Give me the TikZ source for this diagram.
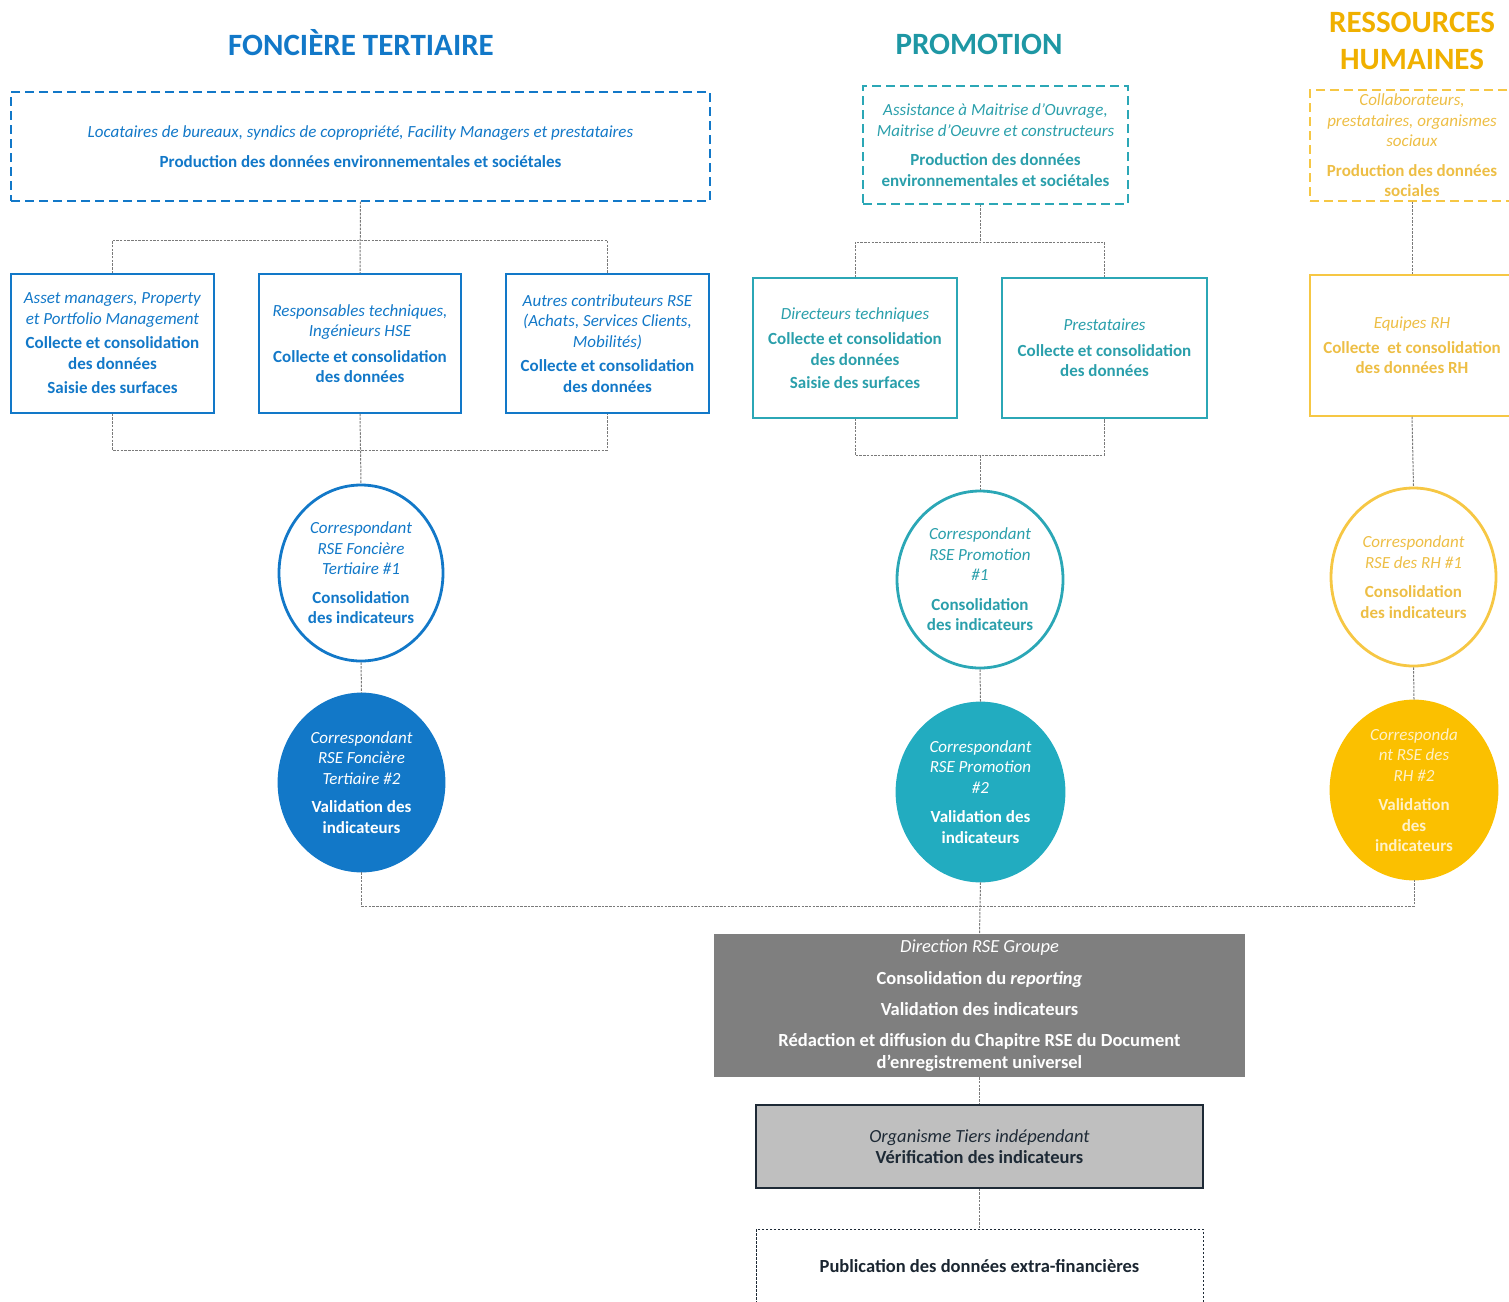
\documentclass[tikz,border=0pt]{standalone}
\usepackage{fontspec}
\setmainfont{Carlito}
\usetikzlibrary{shapes.geometric}
\definecolor{fblue}{HTML}{1278C8}
\definecolor{tealT}{HTML}{1E97A4}
\definecolor{tealS}{HTML}{2BA7B6}
\definecolor{tealF}{HTML}{22ACC0}
\definecolor{tealX}{HTML}{2A9FAB}
\definecolor{yelT}{HTML}{F0B000}
\definecolor{yelS}{HTML}{F6C744}
\definecolor{yelX}{HTML}{EDBE45}
\definecolor{yelF}{HTML}{FBC000}
\definecolor{yelW}{HTML}{FFF1C8}
\definecolor{conng}{HTML}{7A7A7A}
\definecolor{darkg}{HTML}{7F7F7F}
\definecolor{lightg}{HTML}{BFBFBF}
\definecolor{navy}{HTML}{1E2A36}
\begin{document}
\begin{tikzpicture}[x=1pt,y=-1pt,
  body/.style={font=\fontsize{17}{20.5}\selectfont, align=center, inner sep=0pt},
  ttl/.style={font=\fontsize{31}{37}\selectfont\bfseries, align=center, inner sep=0pt},
  dbox/.style={body, draw, line width=1.4pt, dash pattern=on 9pt off 5pt},
  sbox/.style={body, draw, line width=1.5pt},
  circ/.style={body, ellipse, draw, line width=2.8pt},
  conn/.style={draw=conng, line width=1pt, dash pattern=on 2.5pt off 1.2pt}
]
\useasboundingbox (0,0) rectangle (1509,1301);
\clip (0,0) rectangle (1509,1301);

% titles
\node[ttl, text=fblue] (tF) at (361,43) {FONCIÈRE TERTIAIRE};
\node[ttl, text=tealT] (tP) at (979,44) {PROMOTION};
\node[ttl, text=yelT] (tR) at (1412,40.5) {RESSOURCES\\HUMAINES};

% ---------- Foncière tertiaire ----------
\node[dbox, draw=fblue, text=fblue, minimum width=699, minimum height=109] (fbox) at (360.5,146.5)
  {\textit{Locataires de bureaux, syndics de copropriété, Facility Managers et prestataires}\\[9pt]
   \textbf{Production des données environnementales et sociétales}};

\node[sbox, draw=fblue, text=fblue, minimum width=203, minimum height=139] (b1) at (112.5,343.5)
  {\textit{Asset managers, Property}\\\textit{et Portfolio Management}\\[4pt]
   \textbf{Collecte et consolidation}\\\textbf{des données}\\[4pt]\textbf{Saisie des surfaces}};
\node[sbox, draw=fblue, text=fblue, minimum width=202, minimum height=139] (b2) at (360,343.5)
  {\textit{Responsables techniques,}\\\textit{Ingénieurs HSE}\\[5pt]
   \textbf{Collecte et consolidation}\\\textbf{des données}};
\node[sbox, draw=fblue, text=fblue, minimum width=203, minimum height=139] (b3) at (607.5,343.5)
  {\textit{Autres contributeurs RSE}\\\textit{(Achats, Services Clients,}\\\textit{Mobilités)}\\[4pt]
   \textbf{Collecte et consolidation}\\\textbf{des données}};

\node[circ, draw=fblue, text=fblue, minimum width=164, minimum height=176] (c1) at (361,573)
  {\textit{Correspondant}\\\textit{RSE Foncière}\\\textit{Tertiaire \#1}\\[8pt]
   \textbf{Consolidation}\\\textbf{des indicateurs}};
\node[circ, draw=fblue, fill=fblue, text=white, minimum width=165, minimum height=177] (c2) at (361.5,782.5)
  {\textit{Correspondant}\\\textit{RSE Foncière}\\\textit{Tertiaire \#2}\\[8pt]
   \textbf{Validation des}\\\textbf{indicateurs}};

% ---------- Promotion ----------
\node[dbox, draw=tealS, text=tealX, minimum width=265, minimum height=118] (pbox) at (995.5,145)
  {\textit{Assistance à Maitrise d’Ouvrage,}\\\textit{Maitrise d’Oeuvre et constructeurs}\\[9pt]
   \textbf{Production des données}\\\textbf{environnementales et sociétales}};

\node[sbox, draw=tealS, text=tealX, minimum width=204, minimum height=140] (pb1) at (855,348)
  {\textit{Directeurs techniques}\\[5pt]
   \textbf{Collecte et consolidation}\\\textbf{des données}\\[3pt]\textbf{Saisie des surfaces}};
\node[sbox, draw=tealS, text=tealX, minimum width=205, minimum height=140] (pb2) at (1104.5,348)
  {\textit{Prestataires}\\[5pt]
   \textbf{Collecte et consolidation}\\\textbf{des données}};

\node[circ, draw=tealS, text=tealX, minimum width=166, minimum height=177] (pc1) at (980,579.5)
  {\textit{Correspondant}\\\textit{RSE Promotion}\\\textit{\#1}\\[9pt]
   \textbf{Consolidation}\\\textbf{des indicateurs}};
\node[circ, draw=tealF, fill=tealF, text=white, minimum width=167, minimum height=178] (pc2) at (980.5,792)
  {\textit{Correspondant}\\\textit{RSE Promotion}\\\textit{\#2}\\[9pt]
   \textbf{Validation des}\\\textbf{indicateurs}};

% ---------- Ressources humaines ----------
\node[dbox, draw=yelS, text=yelX, minimum width=204, minimum height=111] (rbox) at (1412,145.5)
  {\textit{Collaborateurs,}\\\textit{prestataires, organismes}\\\textit{sociaux}\\[9pt]
   \textbf{Production des données}\\\textbf{sociales}};
\node[sbox, draw=yelS, text=yelX, minimum width=204, minimum height=141] (rb1) at (1412,345.5)
  {\textit{Equipes RH}\\[4pt]
   \textbf{Collecte\ \ et consolidation}\\\textbf{des données RH}};
\node[circ, draw=yelS, text=yelX, minimum width=165, minimum height=178] (rc1) at (1413.5,577)
  {\textit{Correspondant}\\\textit{RSE des RH \#1}\\[9pt]
   \textbf{Consolidation}\\\textbf{des indicateurs}};
\node[circ, draw=yelF, fill=yelF, text=yelW, minimum width=166, minimum height=178] (rc2) at (1414,790)
  {\textit{Corresponda}\\\textit{nt RSE des}\\\textit{RH \#2}\\[9pt]
   \textbf{Validation}\\\textbf{des}\\\textbf{indicateurs}};

% ---------- Groupe ----------
\node[body, fill=darkg, text=white, minimum width=531, minimum height=143, font=\fontsize{18.5}{22}\selectfont] (dir) at (979.5,1005.5)
  {\textit{Direction RSE Groupe}\\[10pt]
   \textbf{Consolidation\ du \textit{reporting}}\\[9pt]
   \textbf{Validation des indicateurs}\\[9pt]
   \textbf{Rédaction et diffusion\ du Chapitre RSE du Document}\\
   \textbf{d’enregistrement universel}};
\node[body, fill=lightg, draw=navy, line width=1.5pt, text=navy, minimum width=447, minimum height=83, font=\fontsize{18.5}{21}\selectfont] (oti) at (979.5,1146.5)
  {\textit{Organisme Tiers indépendant}\\\textbf{Vérification des indicateurs}};
\node[body, draw=navy, line width=0.8pt, dash pattern=on 2.5pt off 1.5pt, text=navy!90!black, minimum width=447, minimum height=74, font=\fontsize{18.5}{21}\selectfont] (pub) at (979.5,1266)
  {\textbf{Publication\ des données extra-financières}};

% ---------- connectors ----------
\coordinate (fTop) at (360.5,240);
\coordinate (fBot) at (360.5,450);
\draw[conn] (fbox.south) -- (b2.north);
\draw[conn] (b1.north) |- (fTop) -| (b3.north);
\draw[conn] (b1.south) |- (fBot) -| (b3.south);
\draw[conn] (b2.south) -- (c1.north);
\draw[conn] (c1.south) -- (c2.north);

\coordinate (pTop) at (980,242);
\coordinate (pBot) at (980,455);
\draw[conn] (pbox.south -| pTop) -- (pTop);
\draw[conn] (pb1.north) |- (pTop) -| (pb2.north);
\draw[conn] (pb1.south) |- (pBot) -| (pb2.south);
\draw[conn] (pBot) -- (pc1.north);
\draw[conn] (pc1.south) -- (pc2.north);

\draw[conn] (rbox.south) -- (rb1.north);
\draw[conn] (rb1.south) -- (rc1.north);
\draw[conn] (rc1.south) -- (rc2.north);

\coordinate (bus) at (980,906);
\draw[conn] (c2.south) |- (bus) -| (rc2.south);
\draw[conn] (pc2.south) -- (dir.north);
\draw[conn] (dir.south) -- (oti.north);
\draw[conn] (oti.south) -- (pub.north);
\end{tikzpicture}
\end{document}
